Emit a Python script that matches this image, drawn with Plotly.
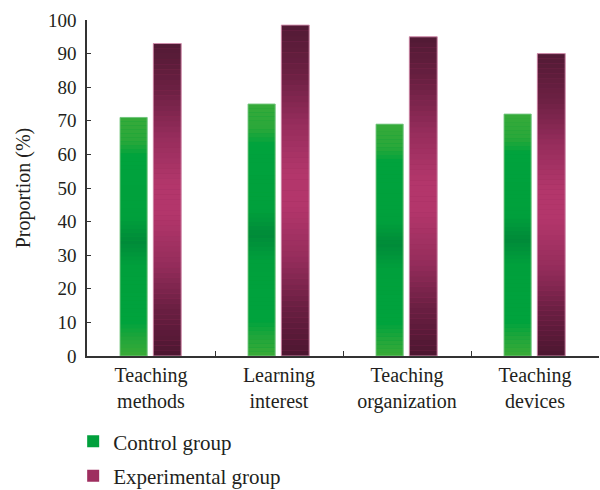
import plotly.graph_objects as go
from plotly.colors import sample_colorscale

categories = ["Teaching<br>methods", "Learning<br>interest", "Teaching<br>organization", "Teaching<br>devices"]
control = [71, 75, 69, 72]
experimental = [93, 98.5, 95, 90]
series_names = ["Control group", "Experimental group"]

green_scale = [[0.0, "#3aaa36"], [0.08, "#1ea63b"], [0.14, "#00a33d"], [0.38, "#00a03c"],
               [0.48, "#008a39"], [0.58, "#00a03c"], [0.84, "#00a33d"], [0.9, "#2aa83a"], [1.0, "#36aa3a"]]
purple_scale = [[0.0, "#4c1630"], [0.15, "#6a1f42"], [0.3, "#962d5c"], [0.45, "#b3366b"],
                [0.55, "#b3366b"], [0.7, "#962d5c"], [0.85, "#6c2043"], [1.0, "#511a34"]]

N = 60
fig = go.Figure()

groups = [
    (control, green_scale, "#00a03c", "rgba(120,200,130,0.9)", -0.242, 0.212, series_names[0]),
    (experimental, purple_scale, "#9e2e5f", "rgba(215,150,180,0.9)", 0.018, 0.218, series_names[1]),
]

for vals, scale, mid, edge, off, w, name in groups:
    fig.add_trace(go.Bar(x=categories, y=vals, name=name, marker=dict(color=mid, line=dict(width=0)),
                         offset=off, width=w, legendgroup=name, showlegend=True))
    cols = sample_colorscale(scale, [(k + 0.5) / N for k in range(N)])
    for k in range(N):
        seg = [v / N * (1.02 if k < N - 1 else 1.0) for v in vals]
        fig.add_trace(go.Bar(x=categories, y=seg, base=[v * k / N for v in vals],
                             marker=dict(color=cols[k], line=dict(width=0)), offset=off, width=w,
                             showlegend=False, hoverinfo="skip"))
    fig.add_trace(go.Bar(x=categories, y=vals, marker=dict(color="rgba(0,0,0,0)", line=dict(color=edge, width=1)),
                         offset=off, width=w, showlegend=False, hoverinfo="skip"))

fig.update_layout(
    width=600, height=490,
    barmode="overlay",
    plot_bgcolor="white", paper_bgcolor="white",
    margin=dict(l=87, r=1, t=20, b=134, autoexpand=False),
    font=dict(family="Liberation Serif", size=20, color="#231f20"),
    legend=dict(x=-0.027, xanchor="left", y=-0.194, yanchor="top", traceorder="grouped",
                tracegroupgap=4, font=dict(size=21)),
    showlegend=True,
)
fig.update_xaxes(range=[-0.5, 3.5], showline=True, linecolor="#333333", linewidth=1.5,
                 ticks="inside", tickson="boundaries", ticklen=5, tickcolor="#333333", showgrid=False,
                 automargin=False, tickfont=dict(size=20))
fig.update_yaxes(range=[0, 100], dtick=10, showline=True, linecolor="#333333", linewidth=1.5,
                 ticks="inside", ticklen=4, tickcolor="#333333", showgrid=False, zeroline=False,
                 ticklabelstandoff=5, automargin=False, tickfont=dict(size=19),
                 title=dict(text="Proportion (%)", standoff=12, font=dict(size=20)))

fig.write_html("out.html", config={"displayModeBar": False},
               post_script="document.body.style.margin='0px';document.body.style.overflow='hidden';")
